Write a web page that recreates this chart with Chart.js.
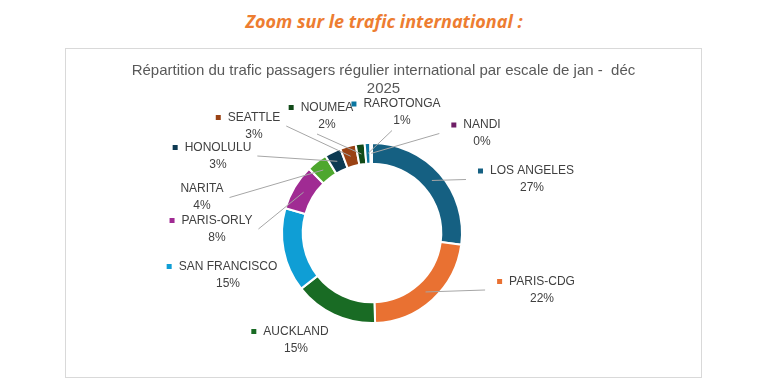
<!DOCTYPE html>
<html>
<head>
<meta charset="utf-8">
<script src="https://cdn.jsdelivr.net/npm/chart.js@4.4.1/dist/chart.umd.min.js"></script>
<style>
  body { margin: 0; background: #fff; }
  #head {
    position: absolute; left: 0; top: 9px; width: 768px; text-align: center;
    font-family: "Open Sans", sans-serif; font-style: italic; font-weight: 700;
    font-size: 18px; line-height: 24px; color: #ED7D31;
  }
  #frame {
    position: absolute; left: 65px; top: 48px; width: 637px; height: 330px;
    box-sizing: border-box; border: 1px solid #D9D9D9;
  }
  #ttl {
    position: absolute; left: 0; top: 12px; width: 100%; text-align: center;
    font-family: "Liberation Sans", Arial, sans-serif; font-size: 15px;
    line-height: 18px; color: #595959;
  }
  #myChart { position: absolute; left: 0; top: 0; }
</style>
</head>
<body>
<div id="head">Zoom sur le trafic international :</div>
<div id="frame">
  <canvas id="myChart" width="635" height="328"></canvas>
  <div id="ttl">Répartition du trafic passagers régulier international par escale de jan -&nbsp; déc<br>2025</div>
</div>
<script>
const escales = ['LOS ANGELES', 'PARIS-CDG', 'AUCKLAND', 'SAN FRANCISCO', 'PARIS-ORLY', 'NARITA',
                 'HONOLULU', 'SEATTLE', 'NOUMEA', 'RAROTONGA', 'NANDI'];
const parts = [27.0, 22.3, 14.9, 15.0, 8.2, 3.7, 2.9, 2.8, 1.6, 1.0, 0.3];

const couleurs = ['#156082', '#E97132', '#196B24', '#0F9ED5', '#A02B93', '#4EA72E',
                  '#0D3A52', '#9A4214', '#114A18', '#0B76A0', '#6F1E66'];

// label placement (block centre, px from the donut centre)
const posLabels = [[160, -53.5], [170, 57], [-76, 107], [-144, 42], [-155, -4], [-170, -35.5],
                   [-154, -77], [-118, -107], [-45, -117], [30, -120.5], [110, -99.5]];
const avecTrait = [true, true, false, false, true, true, true, true, true, true, true];
const sansCle = ['NARITA'];

const etiquettes = {
  id: 'etiquettes',
  afterDatasetsDraw(chart) {
    const ctx = chart.ctx;
    const arcs = chart.getDatasetMeta(0).data;
    const total = parts.reduce((a, b) => a + b, 0);
    ctx.save();
    ctx.font = '12px "Liberation Sans", Arial, sans-serif';
    ctx.textBaseline = 'middle';
    ctx.textAlign = 'center';
    arcs.forEach((arc, i) => {
      const p = arc.getProps(['x', 'y', 'startAngle', 'endAngle', 'innerRadius', 'outerRadius'], true);
      const mid = (p.startAngle + p.endAngle) / 2;
      const rm = (p.innerRadius + p.outerRadius) / 2;
      const px = p.x + Math.cos(mid) * rm;
      const py = p.y + Math.sin(mid) * rm;
      const cx = p.x + posLabels[i][0];
      const cy = p.y + posLabels[i][1];
      const nom = escales[i];
      const pct = Math.round(parts[i] / total * 100) + '%';
      const wNom = ctx.measureText(nom).width;
      const wPct = ctx.measureText(pct).width;
      const cle = !sansCle.includes(nom);
      const gauche = cx - wNom / 2 - (cle ? 12 : 0);
      const droite = cx + Math.max(wNom, wPct) / 2;

      if (avecTrait[i]) {
        let ex, ey;
        if (px >= gauche - 10 && px <= droite + 10) { ex = cx - 10; ey = cy + 18; }
        else if (px < gauche) { ex = gauche - 12; ey = cy; }
        else { ex = droite + 6; ey = cy; }
        ctx.strokeStyle = '#A6A6A6';
        ctx.lineWidth = 1;
        ctx.beginPath();
        ctx.moveTo(px, py);
        ctx.lineTo(ex, ey);
        ctx.stroke();
      }

      ctx.fillStyle = '#404040';
      ctx.fillText(nom, cx, cy - 8.5);
      ctx.fillText(pct, cx, cy + 8.5);
      if (cle) {
        ctx.fillStyle = couleurs[i];
        ctx.fillRect(cx - wNom / 2 - 12, cy - 11, 5, 5);
      }
    });
    ctx.restore();
  }
};

let myChart = document.getElementById('myChart').getContext('2d');

let thisChart = new Chart(myChart, {
  type: 'doughnut',
  data: {
    labels: escales,
    datasets: [{
      data: parts,
      backgroundColor: couleurs,
      borderColor: '#ffffff',
      borderWidth: 2,
      radius: 90,
      cutout: '77%'
    }]
  },
  options: {
    responsive: false,
    animation: false,
    layout: { padding: { top: 60, bottom: 20, left: 0, right: 23 } },
    plugins: {
      legend: { display: false },
      tooltip: { enabled: false }
    }
  },
  plugins: [etiquettes]
});
</script>
</body>
</html>
